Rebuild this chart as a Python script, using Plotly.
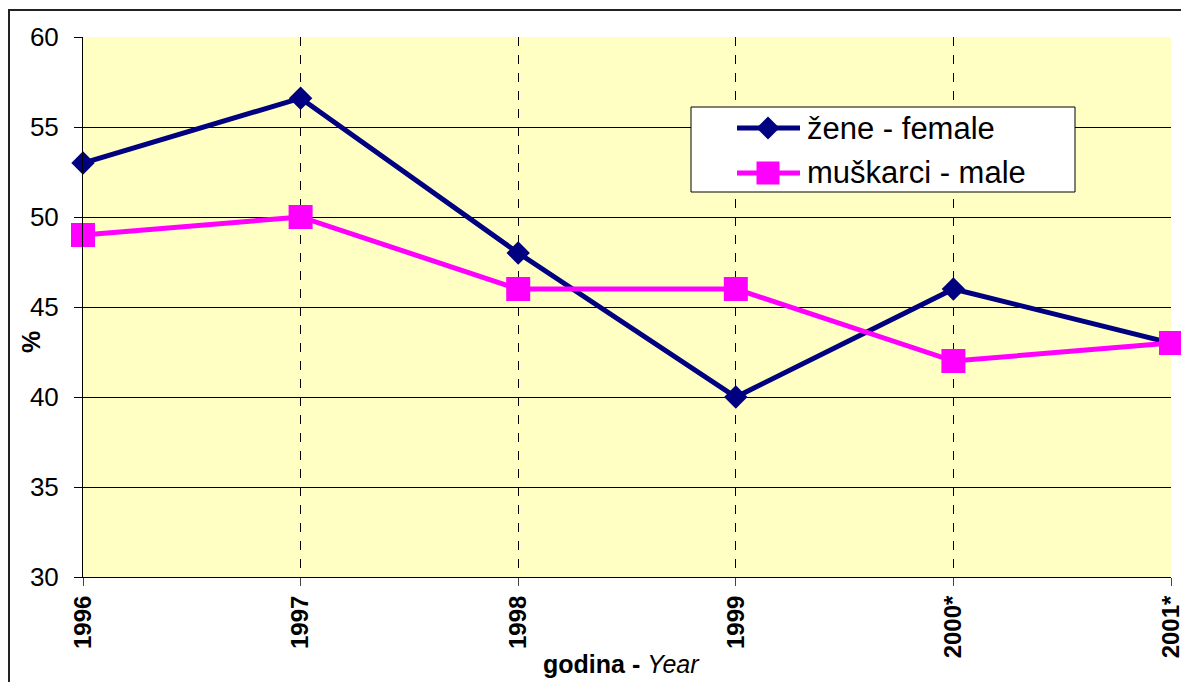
import plotly.graph_objects as go

years = ["1996", "1997", "1998", "1999", "2000*", "2001*"]
female = [53, 56.6, 48, 40, 46, 43]
male = [49, 50, 46, 46, 42, 43]
y_ticks = [30, 35, 40, 45, 50, 55, 60]

series = [
    dict(name="žene - female", values=female, color="#000080", symbol="diamond", size=18, width=5),
    dict(name="muškarci - male", values=male, color="#FF00FF", symbol="square", size=24, width=5),
]

W, H = 1181, 682
L, R, T, B = 83, 10, 37, 105
PW, PH = W - L - R, H - T - B


def px(x):
    return (x - L) / PW


def py(y):
    return 1 - (y - T) / PH


xpos = list(range(len(years)))

fig = go.Figure()
for s in series:
    fig.add_trace(go.Scatter(
        x=xpos, y=s["values"], name=s["name"], mode="lines+markers",
        line=dict(color=s["color"], width=s["width"]),
        marker=dict(symbol=s["symbol"], size=s["size"], color=s["color"]),
        cliponaxis=False, showlegend=False,
    ))

font_family = "Arial, Liberation Sans, sans-serif"

# legend box drawn by hand so the sample lines are as long as in an Excel legend
shapes = [
    dict(type="rect", xref="paper", yref="paper",
         x0=px(9), x1=px(1200), y0=py(700), y1=py(10),
         line=dict(color="#222", width=2), fillcolor="rgba(0,0,0,0)", layer="below"),
    dict(type="rect", xref="paper", yref="paper",
         x0=px(691), x1=px(1075), y0=py(192), y1=py(107),
         line=dict(color="black", width=1), fillcolor="white", layer="above"),
]
annotations = []
rows_y = [128, 173]
for s, ry in zip(series, rows_y):
    shapes.append(dict(type="line", xref="paper", yref="paper",
                       x0=px(737), x1=px(800), y0=py(ry), y1=py(ry),
                       line=dict(color=s["color"], width=s["width"]), layer="above"))
    cx = 768
    h = 11.5
    if s["symbol"] == "diamond":
        path = (f"M {px(cx - h)},{py(ry)} L {px(cx)},{py(ry - h)} "
                f"L {px(cx + h)},{py(ry)} L {px(cx)},{py(ry + h)} Z")
        shapes.append(dict(type="path", xref="paper", yref="paper", path=path,
                           fillcolor=s["color"], line=dict(width=0), layer="above"))
    else:
        shapes.append(dict(type="rect", xref="paper", yref="paper",
                           x0=px(cx - h), x1=px(cx + h), y0=py(ry + h), y1=py(ry - h),
                           fillcolor=s["color"], line=dict(width=0), layer="above"))
    annotations.append(dict(text=s["name"], xref="paper", yref="paper",
                            x=px(805), y=py(ry), xanchor="left", yanchor="middle",
                            showarrow=False, font=dict(size=31, family=font_family)))

annotations.append(dict(text="<b>godina - </b><i>Year</i>", xref="paper", yref="paper",
                        x=px(621), y=py(664), xanchor="center", yanchor="middle",
                        showarrow=False, font=dict(size=25, family=font_family)))
annotations.append(dict(text="<b>%</b>", xref="paper", yref="paper",
                        x=px(31), y=py(342), xanchor="center", yanchor="middle",
                        textangle=-90, showarrow=False,
                        font=dict(size=25, family=font_family)))

fig.update_layout(
    width=W, height=H,
    margin=dict(l=L, r=R, t=T, b=B),
    paper_bgcolor="white",
    plot_bgcolor="#FFFFC4",
    font=dict(family=font_family, color="black"),
    showlegend=False,
    xaxis=dict(
        range=[0, len(years) - 1],
        tickmode="array", tickvals=xpos,
        ticktext=[f"<b>{t}</b>" for t in years],
        tickangle=-90, ticklabeloverflow="allow", automargin=False,
        tickfont=dict(size=24, family=font_family),
        showgrid=True, gridcolor="black", gridwidth=1, griddash="dash",
        showline=True, linecolor="black", linewidth=1,
        ticks="outside", ticklen=8, tickcolor="#444",
        zeroline=False,
    ),
    yaxis=dict(
        range=[30, 60], automargin=False,
        tickmode="array", tickvals=y_ticks,
        tickfont=dict(size=26, family=font_family),
        ticklabelstandoff=10,
        showgrid=True, gridcolor="black", gridwidth=1,
        showline=True, linecolor="black", linewidth=1,
        ticks="outside", ticklen=8, tickcolor="black",
        zeroline=False,
    ),
    shapes=shapes,
    annotations=annotations,
)

fig.write_html("out.html")
